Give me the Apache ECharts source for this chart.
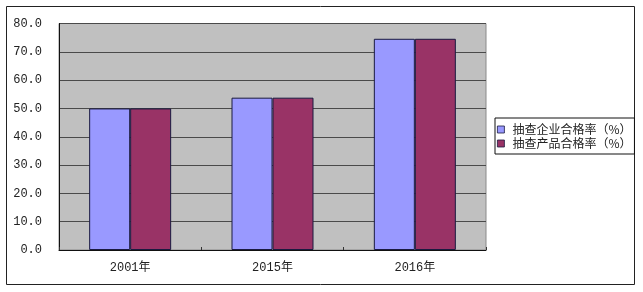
<!DOCTYPE html>
<html>
<head>
<meta charset="utf-8">
<script src="https://cdn.jsdelivr.net/npm/echarts@6/dist/echarts.min.js"></script>
<style>
html,body{margin:0;padding:0;background:#fff;}
#chart{width:643px;height:292px;}
</style>
</head>
<body>
<div id="chart"></div>
<script>
var categories = ['2001年', '2015年', '2016年'];
var seriesNames = ['抽查企业合格率（%）', '抽查产品合格率（%）'];
var enterpriseRate = [50.0, 53.8, 74.6];
var productRate = [50.0, 53.8, 74.6];
var yTicks = [0, 10, 20, 30, 40, 50, 60, 70, 80];

var monoFont = "'Liberation Mono', 'Noto Sans CJK SC', monospace";
var chart = echarts.init(document.getElementById('chart'), null, {renderer: 'canvas'});
chart.setOption({
  animation: false,
  backgroundColor: '#ffffff',
  graphic: [{
    type: 'rect',
    shape: {x: 6.5, y: 6.5, width: 628, height: 278},
    style: {fill: 'none', stroke: '#222222', lineWidth: 1},
    z: -1
  }],
  grid: {
    left: 59, right: 157, top: 23.5, bottom: 42,
    show: true, backgroundColor: '#c0c0c0', borderColor: '#8a8a8a', borderWidth: 1
  },
  legend: {
    orient: 'vertical',
    left: 495, top: 118,
    padding: [5, 3, 4, 2],
    itemGap: 1,
    itemWidth: 7, itemHeight: 7,
    borderColor: '#111111', borderWidth: 1,
    icon: 'rect',
    itemStyle: {borderColor: '#1a1a40', borderWidth: 0.8},
    textStyle: {fontSize: 12, color: '#222', lineHeight: 13, padding: [0, 0, 0, 3],
      fontFamily: "'Noto Sans CJK SC', sans-serif"},
    data: seriesNames
  },
  xAxis: {
    type: 'category',
    data: categories,
    axisLine: {lineStyle: {color: '#111', width: 1}},
    axisTick: {show: true, inside: true, length: 3, lineStyle: {color: '#333'}},
    axisLabel: {fontSize: 12, color: '#222', margin: 12, fontFamily: monoFont}
  },
  yAxis: {
    type: 'value',
    min: yTicks[0], max: yTicks[yTicks.length - 1], interval: 10,
    axisLine: {show: true, lineStyle: {color: '#111', width: 1}},
    axisTick: {show: false},
    splitLine: {lineStyle: {color: '#4a4a4a', width: 1}},
    axisLabel: {fontSize: 12, color: '#222', margin: 17, fontFamily: monoFont,
      formatter: function (v) { return v.toFixed(1); }}
  },
  series: [{
    name: seriesNames[0], type: 'bar', data: enterpriseRate,
    barWidth: 41, barGap: '0%',
    itemStyle: {color: '#9999ff', borderColor: '#1a1a40', borderWidth: 1}
  }, {
    name: seriesNames[1], type: 'bar', data: productRate,
    barWidth: 41, barGap: '0%',
    itemStyle: {color: '#993366', borderColor: '#1a1a40', borderWidth: 1}
  }]
});
</script>
</body>
</html>
